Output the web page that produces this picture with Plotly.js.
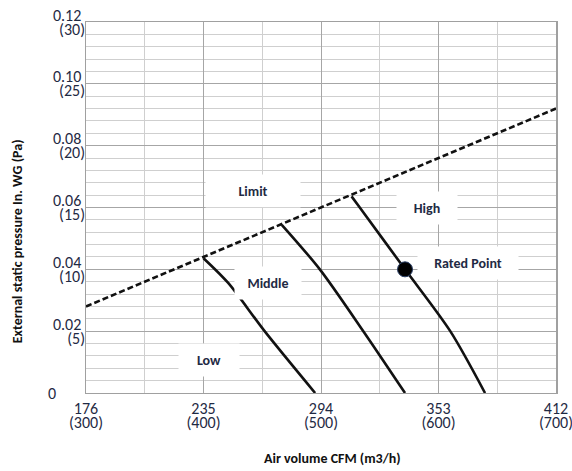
<!DOCTYPE html>
<html>
<head>
<meta charset="utf-8">
<script src="https://cdn.plot.ly/plotly-3.0.1.min.js"></script>
<style>html,body{margin:0;padding:0;background:#fff;}#chart{width:572px;height:471px;}</style>
</head>
<body>
<div id="chart"></div>
<script>
// Airflow in m3/h, pressure in Pa
var airflowTicks = [300, 400, 500, 600, 700];
var cfmLabels = ['176', '235', '294', '353', '412'];
var m3hLabels = ['(300)', '(400)', '(500)', '(600)', '(700)'];
var paTicks = [5, 10, 15, 20, 25, 30];
var inWgLabels = ['0.02', '0.04', '0.06', '0.08', '0.10', '0.12'];
var paLabels = ['(5)', '(10)', '(15)', '(20)', '(25)', '(30)'];

var limitX = [300, 700];
var limitY = [7, 23];
var lowX = [400, 421, 452, 495];
var lowY = [10.9, 8.9, 5.0, 0];
var middleX = [466.6, 499, 536, 571.5];
var middleY = [13.6, 10.0, 5.0, 0];
var highX = [526, 533, 571.5, 610, 639.6];
var highY = [15.9, 15.0, 10.0, 5.0, 0];
var ratedX = [571.5];
var ratedY = [10];

var labelNames = ['Limit', 'High', 'Rated Point', 'Middle', 'Low'];
var labelX = [442, 590, 625, 455, 405];
var labelY = [16.3, 15.0, 10.5, 8.9, 2.7];
var labelW = [92, 58, 98, 64, 58];

var fontFam = 'Carlito, Calibri, Lato, sans-serif';
var navy = '#1f2a44';
var nb = '\u00a0';

var traces = [
  {x: limitX, y: limitY, mode: 'lines', line: {color: '#111', width: 2.6, dash: '6px,3px'}},
  {x: lowX, y: lowY, mode: 'lines', line: {color: '#111', width: 2.6, shape: 'spline', smoothing: 0.8}},
  {x: middleX, y: middleY, mode: 'lines', line: {color: '#111', width: 2.6, shape: 'spline', smoothing: 0.8}},
  {x: highX, y: highY, mode: 'lines', line: {color: '#111', width: 2.6, shape: 'spline', smoothing: 0.8}},
  {x: ratedX, y: ratedY, mode: 'markers', marker: {color: '#000', size: 15, line: {color: '#2a3f66', width: 1}}},
  // carriers so the extra tick-label axes are drawn
  {x: [], y: [], xaxis: 'x2', yaxis: 'y4', mode: 'markers'},
  {x: [], y: [], xaxis: 'x', yaxis: 'y2', mode: 'markers'},
  {x: [], y: [], xaxis: 'x', yaxis: 'y3', mode: 'markers'}
];
traces.forEach(function (t) { t.showlegend = false; t.hoverinfo = 'skip'; });

var annotations = labelNames.map(function (n, i) {
  return {x: labelX[i], y: labelY[i], xref: 'x', yref: 'y', text: n, showarrow: false,
    bgcolor: '#ffffff', width: labelW[i], height: 30, align: 'center',
    font: {family: fontFam, size: 14, color: navy, weight: 'bold'}};
});
annotations.push({xref: 'paper', yref: 'paper', x: 0.525, y: -0.095, yanchor: 'middle', xanchor: 'center',
  text: '<b>Air volume CFM (m3/h)</b>', showarrow: false, font: {family: fontFam, size: 14, color: '#111'}});
annotations.push({xref: 'paper', yref: 'paper', x: -0.145, y: 0.45, xanchor: 'center', yanchor: 'middle', textangle: -90,
  text: '<b>External static pressure In. WG (Pa)</b>', showarrow: false, font: {family: fontFam, size: 14, color: '#111'}});

var tickFont = {family: fontFam, size: 16, color: navy};
// paper: top 22, bottom 421 (height 399); main plot bottom at 393
var layout = {
  width: 572, height: 471,
  margin: {l: 86, r: 16, t: 22, b: 50},
  paper_bgcolor: '#fff', plot_bgcolor: 'rgba(0,0,0,0)',
  xaxis: {range: [300, 700], tickmode: 'array', tickvals: airflowTicks, ticktext: cfmLabels,
    showgrid: true, gridcolor: '#a6a6a6', gridwidth: 1, zeroline: false,
    showline: true, linecolor: '#a0a0a0', linewidth: 1.5, mirror: true, ticks: '',
    tickfont: tickFont, ticklabeloverflow: 'allow',
    minor: {tickmode: 'linear', tick0: 300, dtick: 50, showgrid: true, gridcolor: '#cfcfcf', gridwidth: 1}},
  xaxis2: {range: [300, 700], anchor: 'y4', tickmode: 'array',
    tickvals: airflowTicks, ticktext: m3hLabels, showgrid: false, zeroline: false, showline: false,
    ticks: '', tickfont: tickFont, ticklabeloverflow: 'allow'},
  yaxis: {domain: [0.0702, 1], range: [0, 30], tickmode: 'array', tickvals: [0].concat(paTicks), ticktext: [''].concat(inWgLabels),
    showgrid: true, gridcolor: '#a6a6a6', gridwidth: 1, zeroline: false,
    showline: true, linecolor: '#a0a0a0', linewidth: 1.5, mirror: true, ticks: '',
    tickfont: tickFont, ticklabelshift: -7,
    minor: {tickmode: 'linear', tick0: 0, dtick: 1, showgrid: true, gridcolor: '#cfcfcf', gridwidth: 1}},
  yaxis2: {range: [0, 30], overlaying: 'y', anchor: 'x', side: 'left', tickmode: 'array',
    tickvals: paTicks, ticktext: paLabels, showgrid: false, zeroline: false, showline: false,
    ticks: '', tickfont: tickFont, ticklabelshift: 7},
  yaxis3: {range: [0, 30], overlaying: 'y', anchor: 'x', side: 'left', tickmode: 'array',
    tickvals: [0], ticktext: ['0' + nb + nb + nb + nb + nb + nb + nb + nb], showgrid: false, zeroline: false, showline: false,
    ticks: '', tickfont: tickFont},
  yaxis4: {domain: [0.025, 0.029], range: [0, 1], showgrid: false, zeroline: false, showline: false,
    showticklabels: false, ticks: ''},
  annotations: annotations
};

Plotly.newPlot('chart', traces, layout, {displayModeBar: false, staticPlot: true});
</script>
</body>
</html>
